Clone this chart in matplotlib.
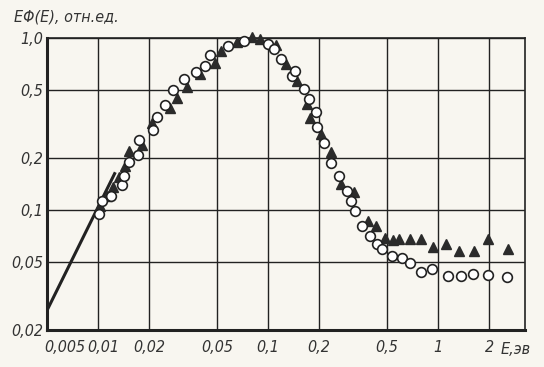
import matplotlib.pyplot as plt
from matplotlib.transforms import ScaledTranslation
import numpy as np

# circles (open) - E, EΦ(E)
circ_E = [0.0101, 0.0106, 0.0119, 0.0139, 0.0141, 0.0152, 0.0171, 0.0175, 0.0211, 0.0221,
          0.0246, 0.0274, 0.0322, 0.0378, 0.0427, 0.0456, 0.0583, 0.0726, 0.100, 0.108,
          0.119, 0.139, 0.144, 0.162, 0.173, 0.191, 0.193, 0.214, 0.236, 0.2615,
          0.290, 0.306, 0.327, 0.357, 0.400, 0.438, 0.466, 0.536, 0.610, 0.681,
          0.794, 0.925, 1.138, 1.363, 1.610, 1.970, 2.555]
circ_v = [0.094, 0.112, 0.120, 0.140, 0.157, 0.191, 0.209, 0.255, 0.291, 0.345,
          0.410, 0.495, 0.574, 0.636, 0.691, 0.794, 0.895, 0.955, 0.927, 0.858,
          0.750, 0.604, 0.646, 0.505, 0.440, 0.371, 0.305, 0.244, 0.187, 0.157,
          0.129, 0.112, 0.099, 0.081, 0.0709, 0.0637, 0.0595, 0.0538, 0.0522, 0.049,
          0.0434, 0.0452, 0.0415, 0.0415, 0.0426, 0.042, 0.0408]

# triangles (filled)
tri_E = [0.0102, 0.0112, 0.0122, 0.0132, 0.0143, 0.0152, 0.018, 0.0207, 0.0265, 0.029,
         0.0334, 0.040, 0.0484, 0.0531, 0.0655, 0.0807, 0.0896, 0.1116, 0.127, 0.148,
         0.169, 0.177, 0.204, 0.234, 0.267, 0.320, 0.386, 0.434, 0.487, 0.544,
         0.588, 0.681, 0.794, 0.933, 1.122, 1.338, 1.625, 1.970, 2.579]
tri_v = [0.105, 0.120, 0.135, 0.155, 0.180, 0.220, 0.240, 0.320, 0.393, 0.450,
         0.520, 0.620, 0.717, 0.840, 0.946, 1.010, 0.990, 0.906, 0.707, 0.564,
         0.412, 0.344, 0.276, 0.217, 0.142, 0.127, 0.0866, 0.081, 0.069, 0.0667,
         0.0677, 0.0677, 0.0677, 0.0608, 0.0635, 0.0577, 0.0577, 0.0677, 0.0595]

# straight line (~E^2) at low energies
line_E = [0.005, 0.0125]
line_v = [0.026, 0.1625]

xticks = [0.005, 0.01, 0.02, 0.05, 0.1, 0.2, 0.5, 1, 2]
xlabels = ['0,005', '0,01', '0,02', '0,05', '0,1', '0,2', '0,5', '1', '2']
yticks = [0.02, 0.05, 0.1, 0.2, 0.5, 1.0]
ylabels = ['0,02', '0,05', '0,1', '0,2', '0,5', '1,0']

bg = '#f8f6f0'
ink = '#222222'
fnt = dict(family=['DejaVu Sans'], stretch='condensed', style='italic', size=11.5,
           color='#333333')

fig = plt.figure(figsize=(5.44, 3.67), dpi=100, facecolor=bg)
ax = fig.add_axes([0.0864, 0.1008, 0.8786, 0.7957], facecolor=bg)

ax.set_xscale('log')
ax.set_yscale('log')
ax.set_xlim(0.005, 3.25)
ax.set_ylim(0.02, 1.0)

ax.plot(line_E, line_v, color=ink, lw=2.2, zorder=2)
ax.plot(tri_E, tri_v, ls='none', marker='^', ms=7, mfc='#2b2b2b', mec='#2b2b2b',
        zorder=3, clip_on=False)
ax.plot(circ_E, circ_v, ls='none', marker='o', ms=7, mfc='white', mec=ink, mew=1.2,
        zorder=4, clip_on=False)

ax.minorticks_off()
ax.set_xticks(xticks)
ax.set_xticklabels(xlabels, fontdict=fnt)
ax.set_yticks(yticks)
ax.set_yticklabels(ylabels, fontdict=fnt)
ax.tick_params(axis='both', length=0)
ax.tick_params(axis='x', pad=7)
ax.tick_params(axis='y', pad=3)

# keep the two leftmost labels apart
lab = ax.get_xticklabels()
lab[0].set_ha('left')
lab[0].set_transform(lab[0].get_transform() + ScaledTranslation(-0.03, 0, fig.dpi_scale_trans))
lab[1].set_transform(lab[1].get_transform() + ScaledTranslation(0.05, 0, fig.dpi_scale_trans))

ax.grid(True, which='major', color=ink, lw=1.0)
ax.set_axisbelow(True)
for side in ['left', 'bottom']:
    ax.spines[side].set_linewidth(2.2)
for side in ['top', 'right']:
    ax.spines[side].set_linewidth(1.2)
for s in ax.spines.values():
    s.set_color(ink)

fig.text(0.025, 0.955, 'EΦ(E), отн.ед.', ha='left', va='center', **fnt)
fig.text(0.92, 0.047, 'E,эв', ha='left', va='center', **fnt)

fig.savefig('out.png', dpi=100, facecolor=bg)
